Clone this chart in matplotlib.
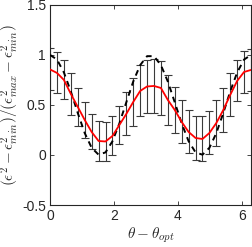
import numpy as np
import matplotlib
matplotlib.use("Agg")
import matplotlib.pyplot as plt

plt.rcParams["font.family"] = ["Liberation Sans", "DejaVu Sans"]
plt.rcParams["mathtext.fontset"] = "cm"

# 30 samples over one period
theta = np.linspace(0, 2 * np.pi, 30)

# measured mean (red) and error bar half-widths
mean_vals = [0.855, 0.82, 0.75, 0.61, 0.48, 0.35, 0.23, 0.14, 0.135, 0.19,
             0.30, 0.41, 0.53, 0.64, 0.685, 0.69, 0.67, 0.55, 0.45, 0.33,
             0.23, 0.17, 0.16, 0.22, 0.32, 0.45, 0.60, 0.74, 0.83, 0.85]
err_vals = [0.21, 0.205, 0.195, 0.21, 0.19, 0.18, 0.175, 0.2, 0.195, 0.195,
            0.19, 0.215, 0.24, 0.255, 0.265, 0.27, 0.27, 0.25, 0.23, 0.215,
            0.215, 0.22, 0.225, 0.215, 0.23, 0.22, 0.215, 0.205, 0.21, 0.21]
# ideal curve (black dashed)
ideal_vals = [1.0, 0.954, 0.824, 0.634, 0.419, 0.219, 0.072, 0.003, 0.026, 0.137,
              0.315, 0.526, 0.734, 0.898, 0.988, 0.988, 0.898, 0.734, 0.526, 0.315,
              0.137, 0.026, 0.003, 0.072, 0.219, 0.419, 0.634, 0.824, 0.954, 1.0]

fig = plt.figure(figsize=(2.53, 2.47), dpi=100)
ax = fig.add_axes([0.198, 0.17, 0.794, 0.81])

ax.errorbar(theta, mean_vals, yerr=err_vals, fmt="none", ecolor="#3a3a3a",
            elinewidth=0.8, capsize=3.0, capthick=0.8, zorder=2)
ax.plot(theta, ideal_vals, "k--", lw=1.4, dashes=(3, 2.5), zorder=3)
ax.plot(theta, mean_vals, color="red", lw=1.3, zorder=4)

ax.set_xlim(0, 2 * np.pi)
ax.set_ylim(-0.5, 1.5)
ax.set_xticks([0, 2, 4, 6])
ax.set_yticks([-0.5, 0, 0.5, 1, 1.5])
ax.set_yticklabels(["-0.5", "0", "0.5", "1", "1.5"])
ax.tick_params(direction="in", top=True, right=True, length=3, width=0.6,
               labelsize=10, colors="#262626", pad=3)
for s in ax.spines.values():
    s.set_linewidth(0.8)
    s.set_color("#262626")

ax.set_xlabel(r"$\theta-\theta_{opt}$", fontsize=11, color="#262626", labelpad=2)
ax.set_ylabel(r"$(\epsilon^2-\epsilon^2_{min})/(\epsilon^2_{max}-\epsilon^2_{min})$",
              fontsize=11, color="#262626", labelpad=1)

fig.savefig("out.png", dpi=100)
